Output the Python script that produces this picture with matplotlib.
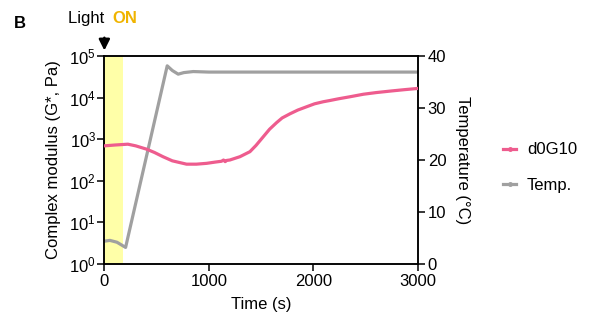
import matplotlib
matplotlib.use("Agg")
import matplotlib.pyplot as plt
import numpy as np
from matplotlib.lines import Line2D

plt.rcParams['font.family'] = ['Liberation Sans', 'DejaVu Sans']
plt.rcParams['mathtext.fontset'] = 'custom'
plt.rcParams['mathtext.rm'] = 'Liberation Sans'
plt.rcParams['mathtext.it'] = 'Liberation Sans:italic'
plt.rcParams['mathtext.bf'] = 'Liberation Sans:bold'

# Data
mod_time = [0, 100, 225, 300, 404, 480, 560, 650, 786, 880, 978, 1060, 1120, 1140, 1155, 1170, 1200,
            1297, 1392, 1450, 1520, 1580, 1648, 1700, 1775, 1850, 1935, 2010, 2094, 2158, 2238,
            2350, 2477, 2600, 2750, 2870, 3000]
mod_log = [2.84, 2.86, 2.88, 2.84, 2.76, 2.68, 2.58, 2.48, 2.40, 2.40, 2.42, 2.45, 2.47, 2.50, 2.46, 2.49, 2.50,
           2.58, 2.70, 2.85, 3.06, 3.24, 3.40, 3.51, 3.61, 3.70, 3.78, 3.85, 3.90, 3.93, 3.97,
           4.02, 4.08, 4.12, 4.16, 4.19, 4.22]
modulus = [10 ** v for v in mod_log]

temp_time = [0, 53, 120, 203, 601, 650, 706, 760, 850, 1000, 2000, 3000]
temp_val = [4.4, 4.55, 4.2, 3.2, 38.1, 37.2, 36.5, 36.8, 37.0, 36.9, 36.9, 36.9]

light_on = [0, 180]
legend_labels = ['d0G10', 'Temp.']

pink = '#EE5C8E'
gray = '#A0A0A0'

fig = plt.figure(figsize=(5.93, 3.33), dpi=100)
ax = fig.add_axes([0.176, 0.207, 0.529, 0.625])
ax2 = ax.twinx()

ax2.axvspan(light_on[0], light_on[1], color='#FFFFA8', zorder=0, lw=0)
l2, = ax2.plot(temp_time, temp_val, color=gray, lw=2.3, zorder=2)
l1, = ax.plot(mod_time, modulus, color=pink, lw=2.3, zorder=3)

ax.set_zorder(ax2.get_zorder() + 1)
ax.patch.set_visible(False)

ax.set_yscale('log')
ax.set_ylim(1, 1e5)
ax.set_xlim(0, 3000)
ax.set_xticks([0, 1000, 2000, 3000])
ax.set_yticks([1, 10, 100, 1000, 1e4, 1e5])
ax.yaxis.set_minor_locator(matplotlib.ticker.NullLocator())
ax2.set_ylim(0, 40)
ax2.set_yticks([0, 10, 20, 30, 40])

for a in (ax, ax2):
    for s in a.spines.values():
        s.set_linewidth(1.1)
    a.tick_params(direction='out', length=5, width=1.1, labelsize=12, pad=2)
ax.tick_params(axis='y', pad=1)

ax.set_xlabel('Time (s)', fontsize=12, labelpad=6)
ax.set_ylabel('Complex modulus (G*, Pa)', fontsize=12, labelpad=6)
ax2.set_ylabel('Temperature (°C)', fontsize=12, rotation=270, labelpad=17)

h1 = Line2D([], [], color=pink, lw=2.3, marker='o', markersize=2.5)
h2 = Line2D([], [], color=gray, lw=2.3, marker='o', markersize=2.5)
fig.legend([h1, h2], legend_labels, loc='center left', bbox_to_anchor=(0.848, 0.496),
           frameon=False, fontsize=12, handlelength=0.8, handletextpad=0.65, labelspacing=1.25,
           borderaxespad=0, borderpad=0)

fig.text(0.024, 0.93, 'B', fontsize=12, fontweight='bold', va='center')
fig.text(0.115, 0.945, 'Light ', fontsize=12, va='center')
fig.text(0.189, 0.945, 'ON', fontsize=12, fontweight='bold', color='#F0B400', va='center')
fig.add_artist(matplotlib.patches.FancyArrowPatch((0.176, 0.895), (0.176, 0.84),
                                                  transform=fig.transFigure, arrowstyle='-|>',
                                                  mutation_scale=16, color='black', lw=1.8))

fig.savefig('out.png', dpi=100)
